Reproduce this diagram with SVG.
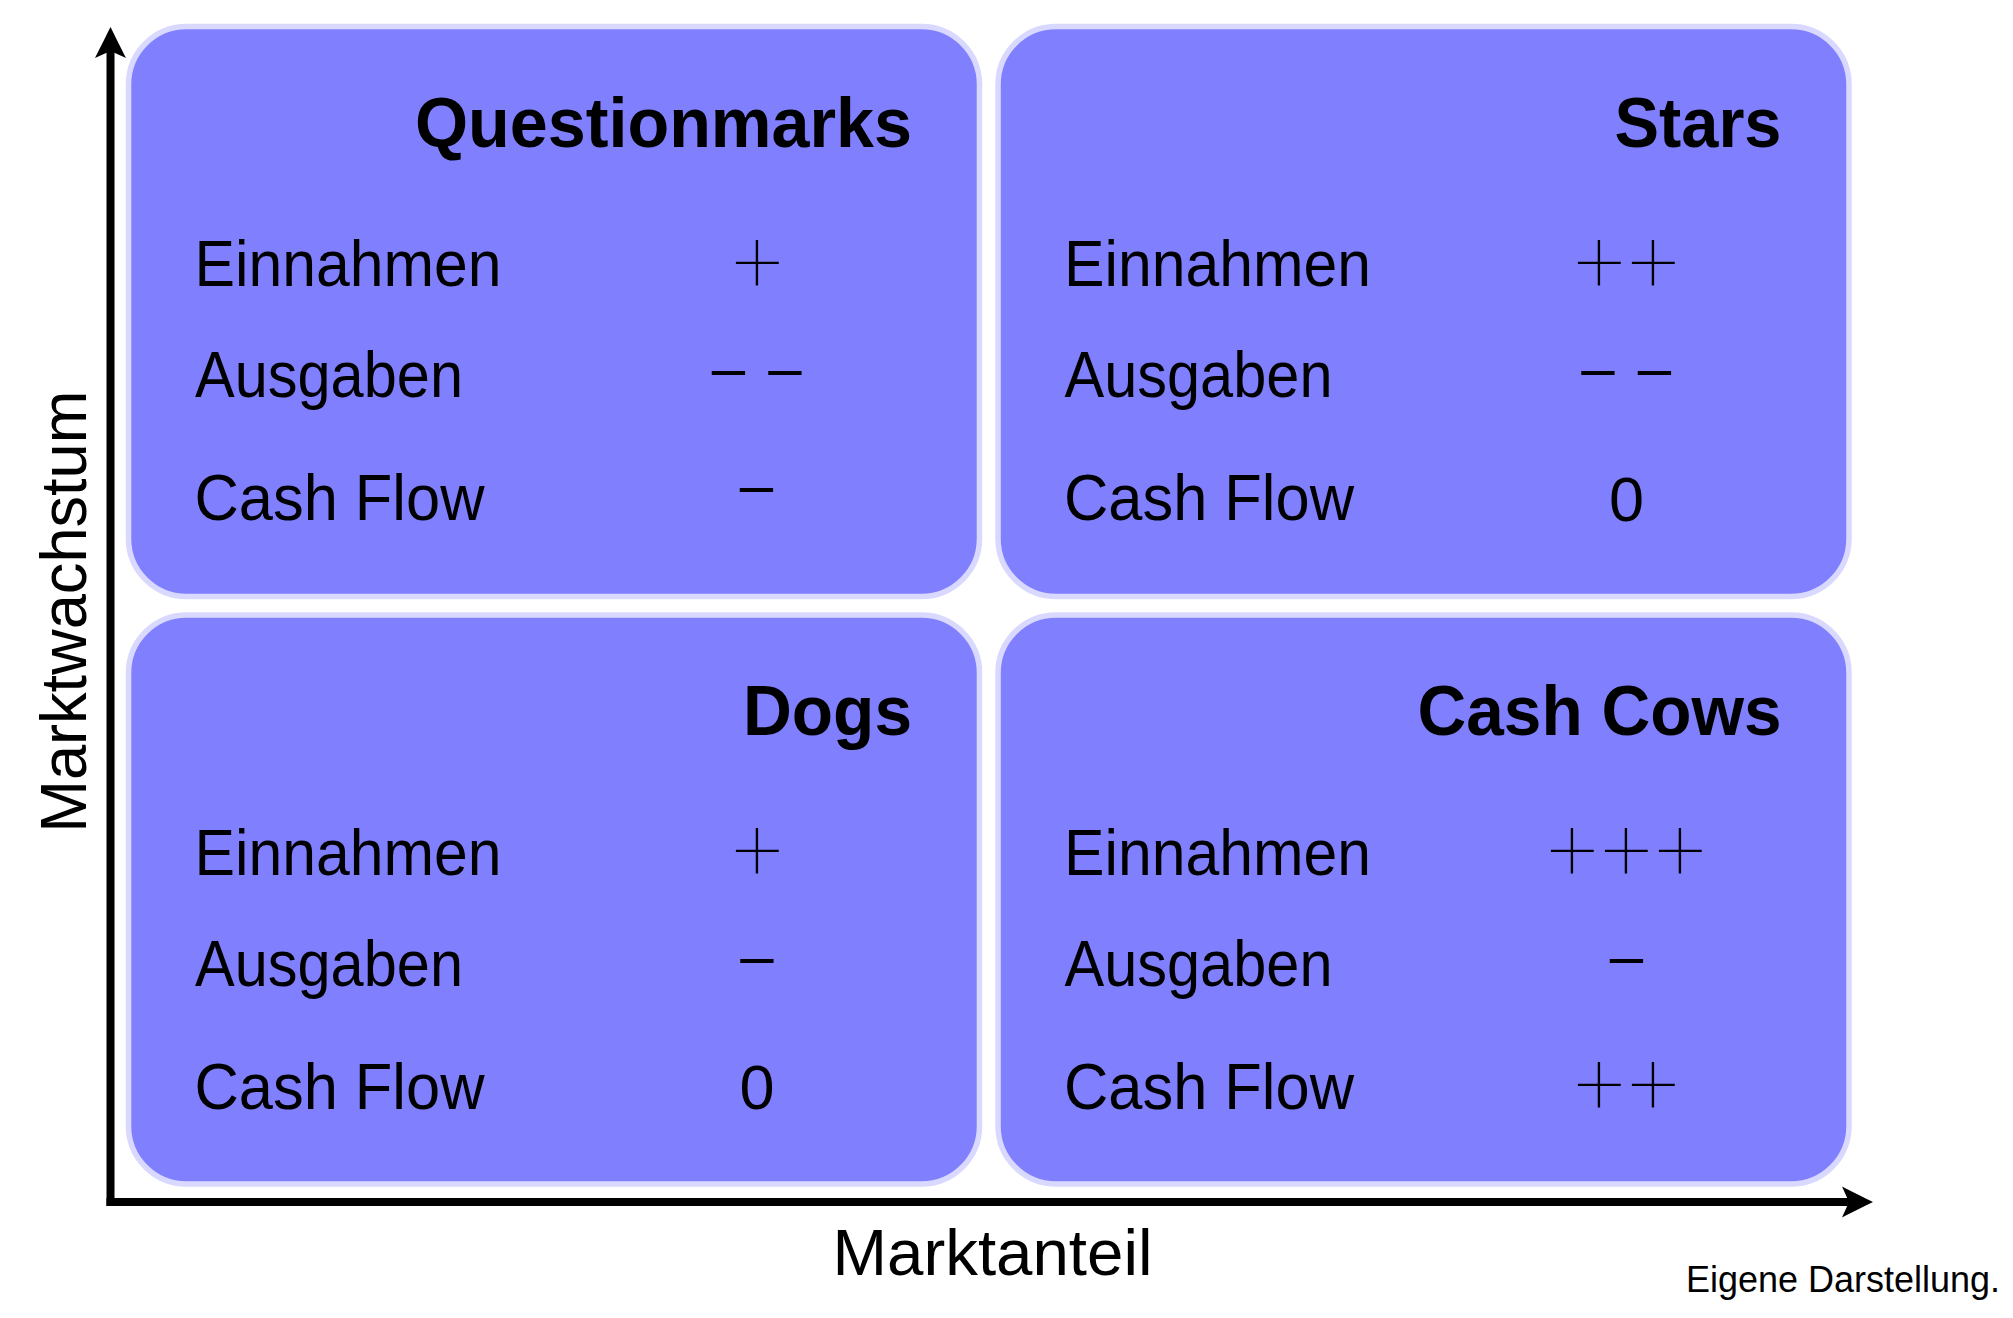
<svg xmlns="http://www.w3.org/2000/svg" width="2013" height="1318" viewBox="0 0 2013 1318">
<defs>
<style>
.box{fill:#8080ff;stroke:#d9d9ff;stroke-width:5.5}
.title{font-family:"Liberation Sans",Arial,sans-serif;font-weight:bold;font-size:70px;fill:#000;text-anchor:end}
.lbl{font-family:"Liberation Sans",Arial,sans-serif;font-size:65px;fill:#000}
.sym{font-family:Roboto,"Liberation Sans",sans-serif;font-weight:100;font-size:88px;fill:#000;text-anchor:middle}
.dash{font-family:"Liberation Sans",Arial,sans-serif;font-size:60px;fill:#000;text-anchor:middle}
.num{font-family:"Liberation Sans",Arial,sans-serif;font-size:63px;fill:#000;text-anchor:middle}
.axis{fill:none;stroke:#000;stroke-width:8}
.axlbl{font-family:"Liberation Sans",Arial,sans-serif;font-size:65px;fill:#000;text-anchor:middle}
.note{font-family:"Liberation Sans",Arial,sans-serif;font-size:37px;fill:#000}
</style>
<marker id="arr" markerUnits="userSpaceOnUse" viewBox="-32 -17 34 34" markerWidth="34" markerHeight="34" refX="-21" refY="0" orient="auto">
<path d="M0,0 C-9,-4.5 -21,-10.5 -31,-15.5 L-24,0 L-31,15.5 C-21,10.5 -9,4.5 0,0 Z" fill="#000"/>
</marker>
</defs>

<g id="connectors">
<path class="axis" d="M110.5,1206 L110.5,48" marker-end="url(#arr)"/>
<path class="axis" d="M106.5,1202 L1852,1202" marker-end="url(#arr)"/>
</g>

<g id="questionmarks">
<rect class="box" x="128.5" y="26.5" width="851" height="570" rx="58" ry="58"/>
<text class="title" x="912" y="146.7" textLength="497" lengthAdjust="spacingAndGlyphs">Questionmarks</text>
<text class="lbl" x="194.5" y="286" textLength="307" lengthAdjust="spacingAndGlyphs">Einnahmen</text>
<text class="lbl" x="195" y="397" textLength="268" lengthAdjust="spacingAndGlyphs">Ausgaben</text>
<text class="lbl" x="194.5" y="520" textLength="290" lengthAdjust="spacingAndGlyphs">Cash Flow</text>
<text class="sym" x="757.5" y="291.5">+</text>
<text class="dash" x="728.5 757 785" y="387.5">– –</text>
<text class="dash" x="756.5" y="504.5">–</text>
</g>

<g id="stars">
<rect class="box" x="998" y="26.5" width="851" height="570" rx="58" ry="58"/>
<text class="title" x="1781.5" y="146.7" textLength="167" lengthAdjust="spacingAndGlyphs">Stars</text>
<text class="lbl" x="1064" y="286" textLength="307" lengthAdjust="spacingAndGlyphs">Einnahmen</text>
<text class="lbl" x="1064.5" y="397" textLength="268" lengthAdjust="spacingAndGlyphs">Ausgaben</text>
<text class="lbl" x="1064" y="520" textLength="290" lengthAdjust="spacingAndGlyphs">Cash Flow</text>
<text class="sym" x="1599.5 1653.5" y="291.5">++</text>
<text class="dash" x="1598 1626.5 1654.5" y="387.5">– –</text>
<text class="num" x="1626.5" y="520.5">0</text>
</g>

<g id="dogs">
<rect class="box" x="128.5" y="615" width="851" height="569" rx="58" ry="58"/>
<text class="title" x="912" y="735" textLength="169" lengthAdjust="spacingAndGlyphs">Dogs</text>
<text class="lbl" x="194.5" y="874.5" textLength="307" lengthAdjust="spacingAndGlyphs">Einnahmen</text>
<text class="lbl" x="195" y="985.5" textLength="268" lengthAdjust="spacingAndGlyphs">Ausgaben</text>
<text class="lbl" x="194.5" y="1108.5" textLength="290" lengthAdjust="spacingAndGlyphs">Cash Flow</text>
<text class="sym" x="757.5" y="880">+</text>
<text class="dash" x="757" y="975.5">–</text>
<text class="num" x="757" y="1109">0</text>
</g>

<g id="cashcows">
<rect class="box" x="998" y="615" width="851" height="569" rx="58" ry="58"/>
<text class="title" x="1781.5" y="735" textLength="364" lengthAdjust="spacingAndGlyphs">Cash Cows</text>
<text class="lbl" x="1064" y="874.5" textLength="307" lengthAdjust="spacingAndGlyphs">Einnahmen</text>
<text class="lbl" x="1064.5" y="985.5" textLength="268" lengthAdjust="spacingAndGlyphs">Ausgaben</text>
<text class="lbl" x="1064" y="1108.5" textLength="290" lengthAdjust="spacingAndGlyphs">Cash Flow</text>
<text class="sym" x="1572.5 1626.5 1680.5" y="880">+++</text>
<text class="dash" x="1626.5" y="975.5">–</text>
<text class="sym" x="1599.5 1653.5" y="1114">++</text>
</g>

<g id="axis-labels">
<text class="axlbl" x="992.5" y="1275" textLength="320" lengthAdjust="spacingAndGlyphs">Marktanteil</text>
<text class="axlbl" transform="translate(86,611.7) rotate(-90)" x="0" y="0" textLength="442" lengthAdjust="spacingAndGlyphs">Marktwachstum</text>
<text class="note" x="1686" y="1291.7" textLength="314" lengthAdjust="spacingAndGlyphs">Eigene Darstellung.</text>
</g>
</svg>
